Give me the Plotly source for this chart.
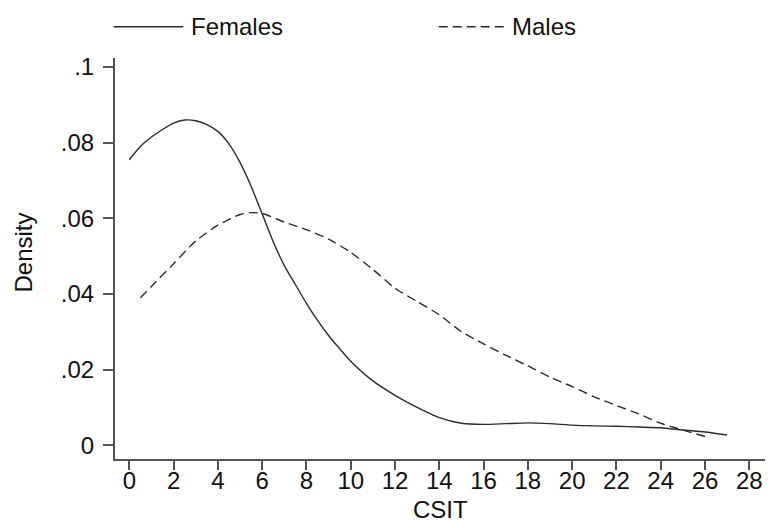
import plotly.graph_objects as go

# Kernel density estimates
fem_x = [0, 0.5, 1, 1.5, 2, 2.5, 3, 3.5, 4, 4.5, 5, 5.5, 6, 6.5, 7, 7.5, 8, 8.5, 9, 9.5,
         10, 11, 12, 13, 14, 15, 16, 17, 18, 19, 20, 21, 22, 23, 24, 25, 26, 27]
fem_y = [0.0755, 0.0790, 0.0815, 0.0835, 0.0852, 0.0860, 0.0858, 0.0848, 0.0830, 0.0797,
         0.0748, 0.0685, 0.0612, 0.0538, 0.0475, 0.0425, 0.0375, 0.0330, 0.0290, 0.0255,
         0.0222, 0.0170, 0.0132, 0.0100, 0.0073, 0.0058, 0.0055, 0.0057, 0.0059, 0.0057,
         0.0053, 0.0051, 0.0050, 0.0048, 0.0046, 0.0040, 0.0035, 0.0027]

male_x = [0.5, 1, 2, 3, 4, 5, 5.5, 6, 7, 8, 9, 10, 11, 12, 13, 14, 15, 16, 17, 18,
          19, 20, 21, 22, 23, 24, 25, 26]
male_y = [0.0390, 0.0420, 0.0480, 0.0540, 0.0582, 0.0610, 0.0615, 0.0613, 0.0590, 0.0570,
          0.0545, 0.0510, 0.0465, 0.0415, 0.0380, 0.0345, 0.0300, 0.0268, 0.0238, 0.0210,
          0.0180, 0.0155, 0.0128, 0.0105, 0.0083, 0.0058, 0.0040, 0.0023]

x_ticks = list(range(0, 29, 2))
x_ticklabels = [str(v) for v in x_ticks]
y_ticks = [0, 0.02, 0.04, 0.06, 0.08, 0.1]
y_ticklabels = ["0", ".02", ".04", ".06", ".08", ".1"]

series_names = ["Females", "Males"]
x_title = "CSIT"
y_title = "Density"

FONT = "Liberation Sans, Arial, sans-serif"
FS = 24
TXT_COL = "#111111"
LINE_COL = "#2b2b2b"
AXIS_COL = "#555555"

fig = go.Figure()
fig.add_trace(go.Scatter(x=fem_x, y=fem_y, mode="lines", name=series_names[0],
                         line=dict(color=LINE_COL, width=1.4, shape="spline", smoothing=0.6)))
fig.add_trace(go.Scatter(x=male_x, y=male_y, mode="lines", name=series_names[1],
                         line=dict(color=LINE_COL, width=1.4, dash="9px,5px",
                                   shape="spline", smoothing=0.6)))

# Legend drawn as sample lines plus text (Stata style, above the plot)
LEG_Y = 1.078
fig.add_shape(type="line", xref="paper", yref="paper", x0=-0.002, x1=0.105, y0=LEG_Y, y1=LEG_Y,
              line=dict(color=LINE_COL, width=1.4))
fig.add_annotation(xref="paper", yref="paper", x=0.114, y=LEG_Y, text=series_names[0],
                   showarrow=False, xanchor="left", yanchor="middle",
                   font=dict(family=FONT, size=FS, color=TXT_COL))
fig.add_shape(type="line", xref="paper", yref="paper", x0=0.498, x1=0.603, y0=LEG_Y, y1=LEG_Y,
              line=dict(color=LINE_COL, width=1.4, dash="9px,5px"))
fig.add_annotation(xref="paper", yref="paper", x=0.607, y=LEG_Y, text=series_names[1],
                   showarrow=False, xanchor="left", yanchor="middle",
                   font=dict(family=FONT, size=FS, color=TXT_COL))

# Axis titles
fig.add_annotation(xref="paper", yref="paper", x=0.5, y=-0.125, text=x_title,
                   showarrow=False, xanchor="center", yanchor="middle",
                   font=dict(family=FONT, size=FS, color=TXT_COL))
fig.add_annotation(xref="paper", yref="paper", x=-0.1415, y=0.515, text=y_title,
                   showarrow=False, xanchor="center", yanchor="middle", textangle=-90,
                   font=dict(family=FONT, size=FS, color=TXT_COL))

# The page body adds an 8px margin, so the figure is 8px smaller on each axis
fig.update_layout(
    width=776, height=520,
    margin=dict(l=107, r=19, t=50, b=69),
    paper_bgcolor="white", plot_bgcolor="white",
    showlegend=False,
    font=dict(family=FONT, size=FS, color=TXT_COL),
    xaxis=dict(range=[-0.646, 28.71], tickvals=x_ticks, ticktext=x_ticklabels,
               showgrid=False, zeroline=False, showline=True, linecolor=AXIS_COL, linewidth=2,
               ticks="outside", ticklen=9, tickwidth=1.5, tickcolor=AXIS_COL,
               automargin=False, ticklabelstandoff=-10, tickfont=dict(size=FS)),
    yaxis=dict(range=[-0.00365, 0.1024], tickvals=y_ticks, ticktext=y_ticklabels,
               showgrid=False, zeroline=False, showline=True, linecolor=AXIS_COL, linewidth=2,
               ticks="outside", ticklen=10, tickwidth=1.5, tickcolor=AXIS_COL,
               automargin=False, ticklabelstandoff=4, tickfont=dict(size=FS)),
)

fig.write_html("out.html")
